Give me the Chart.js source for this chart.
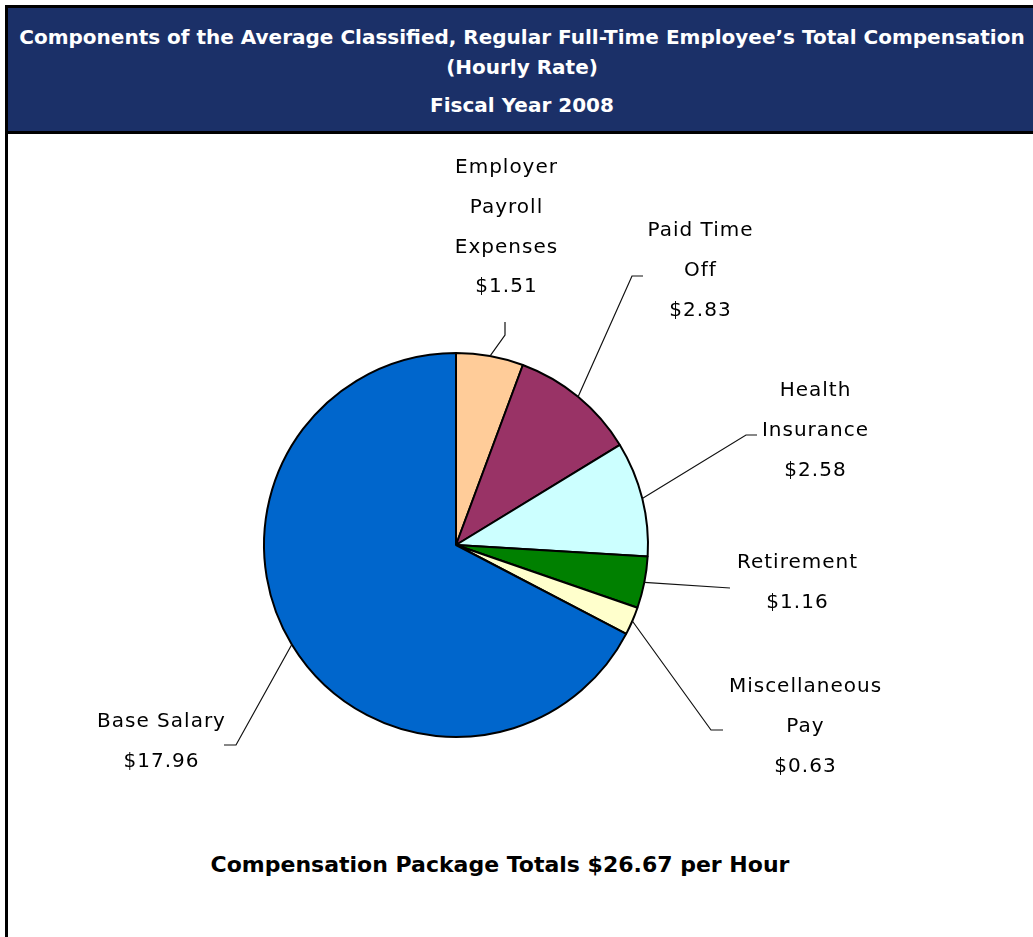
<!DOCTYPE html>
<html>
<head>
<meta charset="utf-8">
<script src="https://cdn.jsdelivr.net/npm/chart.js@4/dist/chart.umd.min.js"></script>
<style>
  html, body { margin: 0; padding: 0; background: #fff; }
  body { width: 1033px; height: 937px; overflow: hidden; position: relative; font-family: "DejaVu Sans", sans-serif; }
  .bar { position: absolute; background: #000; }
  #hdr { position: absolute; left: 8px; top: 8px; width: 1040px; height: 123px; background: #1b3068; }
  .ht { position: absolute; left: 0; width: 1044px; text-align: center; color: #fff; font-weight: bold; font-size: 20px; white-space: nowrap; line-height: 24px; }
  #foot { position: absolute; left: 0; width: 1000px; top: 851px; text-align: center; font-weight: bold; font-size: 22px; line-height: 28px; color: #000; }
  #wrap { position: absolute; left: 0; top: 0; width: 1033px; height: 937px; }
</style>
</head>
<body>
<div class="bar" style="left:5px;top:5px;width:1040px;height:3px"></div>
<div class="bar" style="left:5px;top:5px;width:3px;height:940px"></div>
<div id="hdr"></div>
<div class="bar" style="left:5px;top:131px;width:1040px;height:3px"></div>
<div class="ht" style="top:25px">Components of the Average Classified, Regular Full-Time Employee’s Total Compensation</div>
<div class="ht" style="top:55px">(Hourly Rate)</div>
<div class="ht" style="top:93px">Fiscal Year 2008</div>
<div id="foot">Compensation Package Totals $26.67 per Hour</div>
<div id="wrap"><canvas id="grafico" width="1033" height="937"></canvas></div>
<script>
const categorias = [
  ["Employer", "Payroll", "Expenses"],
  ["Paid Time", "Off"],
  ["Health", "Insurance"],
  ["Retirement"],
  ["Miscellaneous", "Pay"],
  ["Base Salary"]
];
const valores = [1.51, 2.83, 2.58, 1.16, 0.63, 17.96];
const cores = ["#ffcc99", "#993366", "#ccffff", "#008000", "#ffffcc", "#0066cc"];

// where each label sits, relative to the pie centre (dx,dy = first text line,
// ex,ey = leader elbow, tx,ty = short tick after the elbow)
const posRotulos = [
  { dx: 50, dy: -377, ex: 49, ey: -210, tx: 0, ty: -13 },
  { dx: 244, dy: -314, ex: 176, ey: -269, tx: 11, ty: 0 },
  { dx: 359, dy: -154, ex: 290, ey: -110, tx: 11, ty: 0 },
  { dx: 341, dy: 18, ex: 274, ey: 43, tx: 0, ty: 0 },
  { dx: 349, dy: 142, ex: 255, ey: 185, tx: 12, ty: 0 },
  { dx: -295, dy: 177, ex: -220, ey: 200, tx: -12, ty: 0 }
];
const alturaLinha = 39.7;

const rotulos = {
  id: "rotulos",
  afterDatasetsDraw(chart) {
    const ctx = chart.ctx;
    const arcos = chart.getDatasetMeta(0).data;
    ctx.save();
    arcos.forEach((arco, i) => {
      const p = posRotulos[i];
      const meio = (arco.startAngle + arco.endAngle) / 2;
      const x0 = arco.x + Math.cos(meio) * arco.outerRadius;
      const y0 = arco.y + Math.sin(meio) * arco.outerRadius;
      ctx.strokeStyle = "#111";
      ctx.lineWidth = 1.2;
      ctx.beginPath();
      ctx.moveTo(x0, y0);
      ctx.lineTo(arco.x + p.ex, arco.y + p.ey);
      ctx.lineTo(arco.x + p.ex + p.tx, arco.y + p.ey + p.ty);
      ctx.stroke();

      const linhas = categorias[i].concat("$" + valores[i].toFixed(2));
      ctx.fillStyle = "#000";
      ctx.font = '20px "DejaVu Sans"';
      ctx.letterSpacing = "1px";
      ctx.textAlign = "center";
      ctx.textBaseline = "middle";
      linhas.forEach((t, k) => {
        ctx.fillText(t, arco.x + p.dx + 0.5, arco.y + p.dy + k * alturaLinha);
      });
    });
    ctx.restore();
  }
};

new Chart(document.getElementById("grafico"), {
  type: "pie",
  data: {
    labels: categorias.map(c => c.join(" ")),
    datasets: [{
      data: valores,
      backgroundColor: cores,
      borderColor: "#000",
      borderWidth: 2,
      hoverBorderWidth: 2,
      hoverOffset: 0
    }]
  },
  options: {
    responsive: false,
    animation: false,
    layout: { padding: { left: 263, top: 352, right: 384, bottom: 199 } },
    plugins: {
      legend: { display: false },
      tooltip: { enabled: false },
      title: { display: false }
    }
  },
  plugins: [rotulos]
});
</script>
</body>
</html>
